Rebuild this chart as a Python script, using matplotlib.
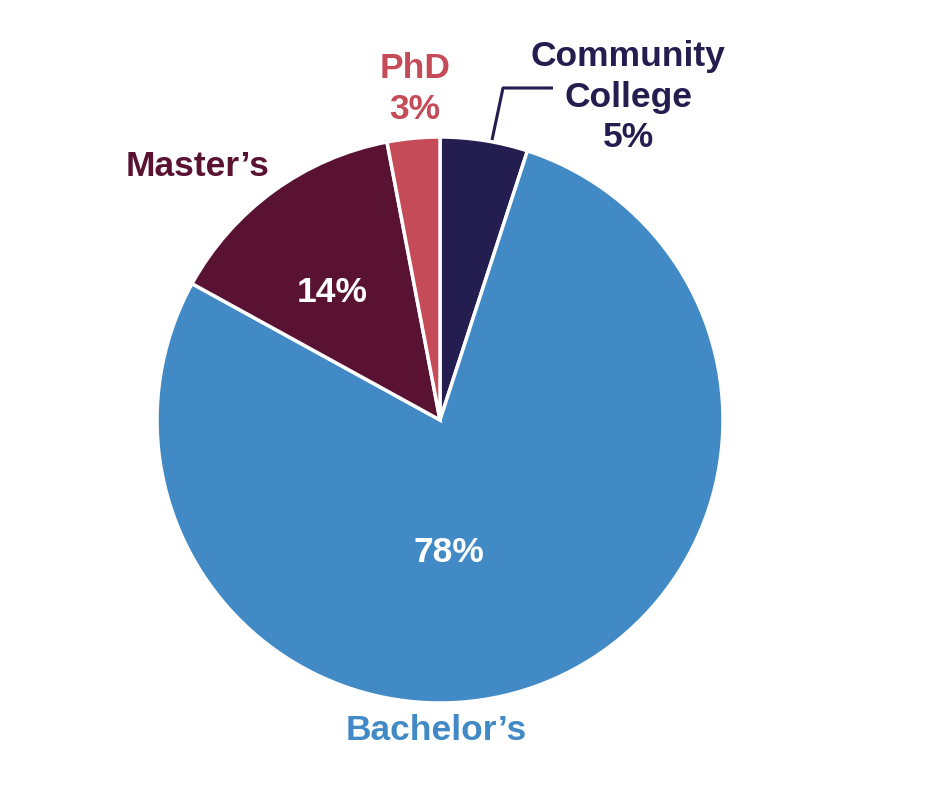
import matplotlib
matplotlib.use("Agg")
import matplotlib.pyplot as plt

categories = ["Community College", "Bachelor\u2019s", "Master\u2019s", "PhD"]
values = [5, 78, 14, 3]
colors = ["#241D50", "#428AC5", "#5A1232", "#C44B57"]

W, H = 926, 806
fig = plt.figure(figsize=(W / 100, H / 100), dpi=100)
ax = fig.add_axes([0, 0, 1, 1])

cx, cy, r = 440, H - 420, 283
ax.pie(values, colors=colors, startangle=90, counterclock=False,
       center=(cx, cy), radius=r, frame=True,
       wedgeprops=dict(edgecolor="white", linewidth=2.5))
ax.set_xlim(0, W)
ax.set_ylim(0, H)
ax.set_aspect("equal")
ax.axis("off")

font = dict(family="Liberation Sans", fontweight="bold", fontsize=25.5,
            ha="center", va="center", linespacing=1.27)

def P(x, y):
    return (x, H - y)

ax.text(*P(628, 97), categories[0].replace(" ", "\n", 1) + f"\n{values[0]}%",
        color=colors[0], **font)
ax.text(*P(415, 89), f"{categories[3]}\n{values[3]}%", color=colors[3], **font)
ax.text(*P(198, 166), categories[2], color=colors[2], **font)
ax.text(*P(332, 293), f"{values[2]}%", color="white", **font)
ax.text(*P(449, 553), f"{values[1]}%", color="white", **font)
ax.text(*P(436, 731), categories[1], color=colors[1], **font)

lx = [492, 503, 553]
ly = [140, 88, 88]
ax.plot(lx, [H - v for v in ly], color=colors[0], linewidth=2.2,
        solid_capstyle="butt")

fig.savefig("out.png", dpi=100)
